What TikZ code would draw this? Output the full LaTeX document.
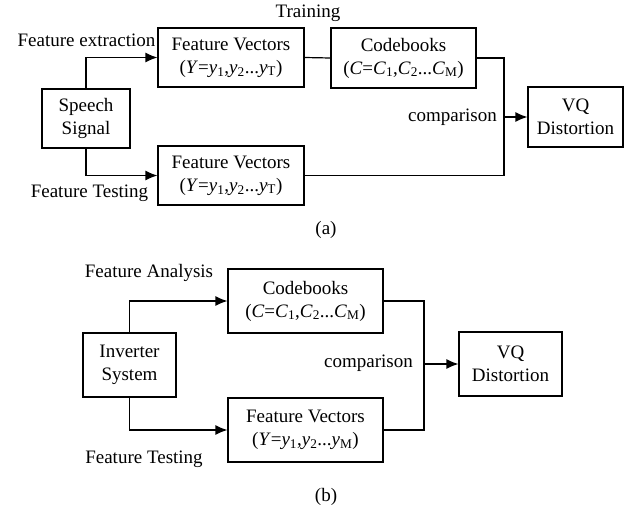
\documentclass[tikz,border=0pt]{standalone}
\usepackage{fontspec}
\setmainfont{Liberation Serif}
\usepackage{tikz}
\usepackage{xcolor}
\usetikzlibrary{arrows.meta}

\newcommand{\sousind}[1]{\textsubscript{#1}}

\tikzset{
bloc/.style={
draw=black,
line width=1.2pt,
align=center,
inner sep=0pt
},
fleche/.style={
line width=1.2pt,
-{Latex[length=12pt,width=10pt]}
},
trait/.style={
line width=1.2pt
}
}

\begin{document}
\begin{tikzpicture}[x=1pt,y=-1pt,every node/.style={font=\fontsize{19}{23}\selectfont}]

\useasboundingbox (0,0) rectangle (642,517);

% Partie (a)
\node[bloc,minimum width=88pt,minimum height=59pt] (speech) at (86,118.5) {Speech\\Signal};
\node[bloc,minimum width=146pt,minimum height=59pt] (fvtrain) at (231,57.5)
{Feature Vectors\\(\textit{Y}=\textit{y}\sousind{1},\textit{y}\sousind{2}...\textit{y}\sousind{T})};
\node[bloc,minimum width=146pt,minimum height=59pt] (fvtest) at (231,175.5)
{Feature Vectors\\(\textit{Y}=\textit{y}\sousind{1},\textit{y}\sousind{2}...\textit{y}\sousind{T})};
\node[bloc,minimum width=145pt,minimum height=60pt] (codea) at (403.5,58)
{Codebooks\\(\textit{C}=\textit{C}\sousind{1},\textit{C}\sousind{2}...\textit{C}\sousind{M})};
\node[bloc,minimum width=95pt,minimum height=60pt] (vqa) at (575.5,117) {VQ\\Distortion};

\coordinate (joina) at (504,117);

\draw[fleche] (speech.north) |- (fvtrain.west);
\draw[fleche] (speech.south) |- (fvtest.west);
\draw[trait] (fvtrain.east) -- (codea.west);
\draw[trait] (codea.east) -| (joina) |- (fvtest.east);
\draw[fleche] (joina) -- (vqa.west);

\node (traina) at (308,13) {Training};
\node (extra) at (86.5,40) {Feature extraction};
\node (testa) at (89.5,193) {Feature Testing};
\node[anchor=east,inner sep=0pt] (compa) at (497,117) {comparison};
\node (capa) at (326,230) {(a)};

% Partie (b)
\node[bloc,minimum width=93pt,minimum height=64pt] (inverter) at (129.5,365) {Inverter\\System};
\node[bloc,minimum width=155pt,minimum height=64pt] (codeb) at (305.5,301)
{Codebooks\\(\textit{C}=\textit{C}\sousind{1},\textit{C}\sousind{2}...\textit{C}\sousind{M})};
\node[bloc,minimum width=155pt,minimum height=64pt] (fvb) at (305.5,430)
{Feature Vectors\\(\textit{Y}=\textit{y}\sousind{1},\textit{y}\sousind{2}...\textit{y}\sousind{M})};
\node[bloc,minimum width=103pt,minimum height=64pt] (vqb) at (510.5,364) {VQ\\Distortion};

\coordinate (joinb) at (424,364);

\draw[fleche] (inverter.north) |- (codeb.west);
\draw[fleche] (inverter.south) |- (fvb.west);
\draw[trait] (codeb.east) -| (joinb) |- (fvb.east);
\draw[fleche] (joinb) -- (vqb.west);

\node (anab) at (149,273) {Feature Analysis};
\node (testb) at (144,459) {Feature Testing};
\node[anchor=east,inner sep=0pt] (compb) at (413,363) {comparison};
\node (capb) at (326,497) {(b)};

\end{tikzpicture}
\end{document}
